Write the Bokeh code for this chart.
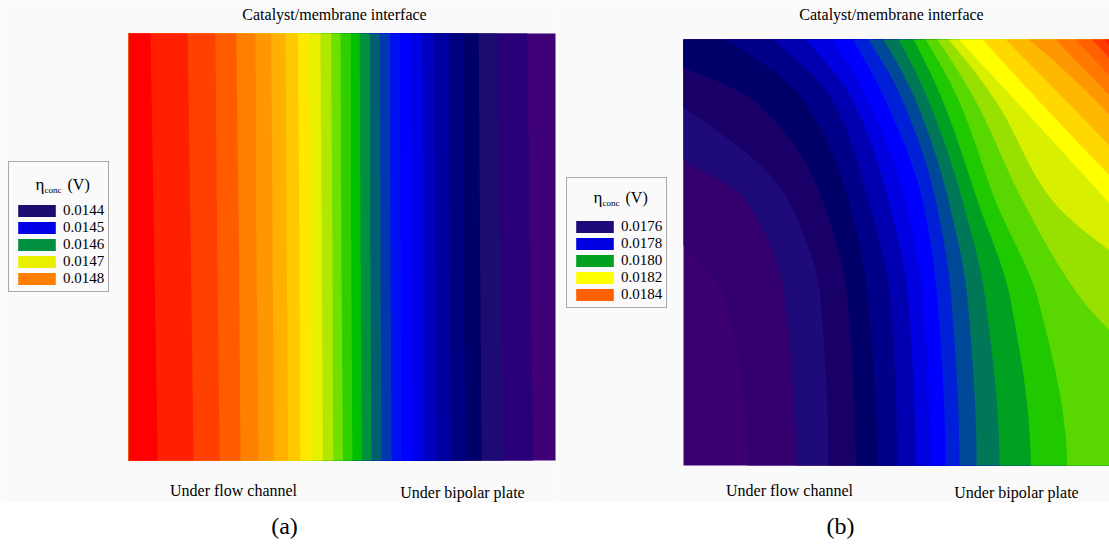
import numpy as np
from bokeh.plotting import figure
from bokeh.layouts import row
from bokeh.models import Range1d, Label, Legend, LegendItem, BoxAnnotation
from bokeh.embed import file_html
from bokeh.resources import INLINE

# ---------------- data: panel (a) ----------------
# contour positions (fraction of the domain width), listed left -> right,
# read at the top, middle and bottom of the domain
a_rows = [1.0, 0.515, 0.0]
a_top = [0.051, 0.138, 0.203, 0.252, 0.297, 0.334, 0.367, 0.396, 0.424, 0.449, 0.474, 0.496, 0.520,
         0.541, 0.565, 0.588, 0.612, 0.635, 0.660, 0.688, 0.715, 0.750, 0.785, 0.820, 0.863, 0.934]
a_mid = [0.059, 0.145, 0.207, 0.258, 0.299, 0.337, 0.370, 0.400, 0.427, 0.452, 0.477, 0.498, 0.521,
         0.543, 0.566, 0.590, 0.613, 0.637, 0.662, 0.690, 0.717, 0.752, 0.785, 0.823, 0.871, 0.940]
a_bot = [0.068, 0.152, 0.213, 0.262, 0.304, 0.340, 0.373, 0.402, 0.430, 0.455, 0.479, 0.502, 0.524,
         0.546, 0.569, 0.592, 0.616, 0.639, 0.666, 0.693, 0.721, 0.754, 0.789, 0.827, 0.877, 0.948]
# band colours, lowest level first
a_colors = ["#400078", "#2a0078", "#1c0c72", "#000068", "#000080", "#0000a0", "#0000c0", "#0000e6",
            "#0000ff", "#0010f0", "#0038b0", "#006070", "#009040", "#00c000", "#30d000", "#70e000",
            "#b0e800", "#e8f000", "#ffe800", "#ffc800", "#ffb000", "#ff9800", "#ff8000", "#ff5c00",
            "#ff4000", "#ff2000", "#ff0000"]
a_legend_labels = ["0.0144", "0.0145", "0.0146", "0.0147", "0.0148"]
a_legend_bands = [2, 7, 12, 17, 22]

# ---------------- data: panel (b) ----------------
b_rows = [1.0, 0.857, 0.622, 0.387, 0.0]
# x position of each contour (lowest level first) at the rows above; None = outside the domain
b_x = [
    [None, None, None, 0.099, 0.150],
    [None, None, 0.146, 0.239, 0.263],
    [None, None, 0.246, 0.322, 0.340],
    [None, 0.164, 0.326, 0.385, 0.404],
    [0.099, 0.282, 0.387, 0.434, 0.455],
    [0.209, 0.350, 0.434, 0.486, 0.502],
    [0.286, 0.397, 0.481, 0.528, 0.545],
    [0.350, 0.434, 0.521, 0.563, 0.580],
    [0.397, 0.474, 0.561, 0.596, 0.615],
    [0.434, 0.514, 0.592, 0.629, 0.648],
    [0.469, 0.545, 0.622, 0.667, 0.688],
    [0.505, 0.575, 0.655, 0.709, 0.742],
    [0.540, 0.608, 0.690, 0.768, 0.815],
    [0.568, 0.646, 0.732, 0.833, 0.901],
    [0.596, 0.685, 0.796, 0.937, None],
    [0.622, 0.732, 0.866, None, None],
    [0.646, 0.779, None, None, None],
    [0.702, 0.833, None, None, None],
    [0.756, 0.897, None, None, None],
    [0.810, 0.967, None, None, None],
    [0.873, None, None, None, None],
    [0.920, None, None, None, None],
    [0.960, None, None, None, None],
    [0.988, None, None, None, None],
]
# where a contour meets the left / right edge (height fraction), None if it does not
b_left_y = [0.516, 0.716, 0.840, 0.934] + [None] * 20
b_right_y = [None] * 14 + [0.317, 0.505, 0.615, 0.681, 0.751, 0.822, 0.869, 0.915, 0.955, 0.986]
b_colors = ["#3c0074", "#340070", "#1e0a78", "#180068", "#000068", "#000088", "#0000b0", "#0000e0",
            "#0000ff", "#0020d8", "#004898", "#007858", "#00a020", "#20c800", "#58d800", "#98e000",
            "#d8f000", "#ffff00", "#ffd800", "#ffb800", "#ff9800", "#ff7800", "#ff6000", "#ff3800",
            "#ff2000"]
b_legend_labels = ["0.0176", "0.0178", "0.0180", "0.0182", "0.0184"]
b_legend_bands = [2, 7, 12, 17, 22]

title_text = "Catalyst/membrane interface"
left_text = "Under flow channel"
right_text = "Under bipolar plate"

SERIF = "Liberation Serif"
INK = "#000000"
H = 545


def pchip(t, v, tq):
    """Monotone cubic curve through the read contour points (drawing only)."""
    t = np.asarray(t, float)
    v = np.asarray(v, float)
    n = len(t)
    if n == 2:
        return np.interp(tq, t, v)
    h = np.diff(t)
    d = np.diff(v) / h
    m = np.zeros(n)
    for i in range(1, n - 1):
        if d[i - 1] * d[i] > 0:
            w1 = 2 * h[i] + h[i - 1]
            w2 = h[i] + 2 * h[i - 1]
            m[i] = (w1 + w2) / (w1 / d[i - 1] + w2 / d[i])

    def end(h0, h1, d0, d1):
        mm = ((2 * h0 + h1) * d0 - h0 * d1) / (h0 + h1)
        if np.sign(mm) != np.sign(d0):
            return 0.0
        if np.sign(d0) != np.sign(d1) and abs(mm) > 3 * abs(d0):
            return 3 * d0
        return mm

    m[0] = end(h[0], h[1], d[0], d[1])
    m[-1] = end(h[-1], h[-2], d[-1], d[-2])
    tq = np.asarray(tq, float)
    idx = np.clip(np.searchsorted(t, tq) - 1, 0, n - 2)
    hh = h[idx]
    s = (tq - t[idx]) / hh
    h00 = 2 * s ** 3 - 3 * s ** 2 + 1
    h10 = s ** 3 - 2 * s ** 2 + s
    h01 = -2 * s ** 3 + 3 * s ** 2
    h11 = s ** 3 - s ** 2
    return h00 * v[idx] + h10 * hh * m[idx] + h01 * v[idx + 1] + h11 * hh * m[idx + 1]


def make_fig(width, x0px, wpx, y1px, hpx, left_px):
    xs = -(x0px - left_px) / wpx
    xe = (left_px + width - x0px) / wpx
    y_bottom_px = y1px + hpx
    ys = -(H - y_bottom_px) / hpx
    ye = 1 + y1px / hpx
    p = figure(width=width, height=H, x_range=Range1d(xs, xe), y_range=Range1d(ys, ye),
               output_backend="svg", toolbar_location=None, x_axis_location=None,
               y_axis_location=None, min_border=0, outline_line_color=None,
               background_fill_color="white", border_fill_color="white")
    p.grid.visible = False
    fx = lambda px: (px - x0px) / wpx
    fy = lambda py: (y_bottom_px - py) / hpx
    p.add_layout(BoxAnnotation(bottom=fy(502), fill_color="#fafafa", fill_alpha=1.0,
                               line_color=None, level="underlay"))
    return p, fx, fy


def add_texts(p, renderer, fx, fy, left_px, tx, lx, rx, cap, cx, lg_x, lg_bottom, title_y,
              labels, bands):
    # lg_x, tx, lx, rx, cx are page pixels; left_px is where this figure starts on the page
    p.add_layout(Label(x=fx(tx), y=fy(14), text=title_text, text_align="center",
                       text_baseline="middle", text_font=SERIF, text_font_size="16px",
                       text_color=INK))
    p.add_layout(Label(x=fx(lx), y=fy(490), text=left_text, text_align="center",
                       text_baseline="middle", text_font=SERIF, text_font_size="16px",
                       text_color=INK))
    p.add_layout(Label(x=fx(rx), y=fy(492), text=right_text, text_align="center",
                       text_baseline="middle", text_font=SERIF, text_font_size="16px",
                       text_color=INK))
    p.add_layout(Label(x=fx(cx), y=fy(525), text=cap, text_align="center",
                       text_baseline="middle", text_font=SERIF, text_font_size="24px",
                       text_color=INK))
    items = [LegendItem(label=lab, renderers=[renderer], index=b) for lab, b in zip(labels, bands)]
    lg = Legend(items=items, location=(lg_x - left_px, H - lg_bottom), title=" ",
                title_text_font_size="16px", title_standoff=18, padding=4, spacing=0,
                glyph_width=47, glyph_height=15, label_standoff=3, label_height=15,
                label_text_font=SERIF, label_text_font_size="15px", label_text_color=INK,
                border_line_color="#555555", border_line_width=1, background_fill_color="white",
                background_fill_alpha=0.0, margin=0)
    p.add_layout(lg, "center")
    ex = lg_x + 27
    p.add_layout(Label(x=fx(ex), y=fy(title_y), text="η", text_baseline="middle",
                       text_font=SERIF, text_font_size="17px", text_color=INK))
    p.add_layout(Label(x=fx(ex + 9), y=fy(title_y + 5), text="conc", text_baseline="middle",
                       text_font=SERIF, text_font_size="9px", text_color=INK))
    p.add_layout(Label(x=fx(ex + 32), y=fy(title_y), text="(V)", text_baseline="middle",
                       text_font=SERIF, text_font_size="16px", text_color=INK))


# ---------------- panel (a) ----------------
WA = 557
pa, fxa, fya = make_fig(WA, 128.3, 426.7, 33, 427, 0)
n_a = len(a_top)
xs_a = [[0, 1, 1, 0]]
ys_a = [[0, 0, 1, 1]]
cols_a = [a_colors[0]]
for j in range(n_a - 1, -1, -1):  # rightmost contour first
    xs_a.append([0, a_top[j], a_mid[j], a_bot[j], 0])
    ys_a.append([a_rows[0], a_rows[0], a_rows[1], a_rows[2], a_rows[2]])
    cols_a.append(a_colors[n_a - j])
ra = pa.patches(xs=xs_a, ys=ys_a, fill_color=cols_a, line_color=None)
add_texts(pa, ra, fxa, fya, 0, 334, 233, 462, "(a)", 284, 8, 292, 184,
          a_legend_labels, a_legend_bands)

# ---------------- panel (b) ----------------
WB = 1109 - WA
pb, fxb, fyb = make_fig(WB, 683, 426, 39, 426, WA)
xs_b = [[0, 1, 1, 0]]
ys_b = [[0, 0, 1, 1]]
cols_b = [b_colors[0]]
for k in range(len(b_x)):
    pts = []
    if b_left_y[k] is not None:
        pts.append((0.0, b_left_y[k]))
    for xv, yv in zip(b_x[k], b_rows):
        if xv is not None:
            pts.append((xv, yv))
    if b_right_y[k] is not None:
        pts.append((1.0, b_right_y[k]))
    pts.sort(key=lambda t: t[1])          # ascending height
    ty = [t[1] for t in pts]
    tx = [t[0] for t in pts]
    yq = np.linspace(ty[0], ty[-1], 80)
    xq = np.clip(pchip(ty, tx, yq), 0.0, 1.0)
    cx = list(xq[::-1])
    cy = list(yq[::-1])
    px = cx + [1.0, 1.0, cx[0]]
    py = cy + [cy[-1], 1.0, 1.0]
    xs_b.append(px)
    ys_b.append(py)
    cols_b.append(b_colors[k + 1])
rb = pb.patches(xs=xs_b, ys=ys_b, fill_color=cols_b, line_color=None)
add_texts(pb, rb, fxb, fyb, WA, 891, 789, 1016, "(b)", 840, 566, 308, 197,
          b_legend_labels, b_legend_bands)

layout = row(pa, pb, spacing=0)
open("out.html", "w").write(file_html(layout, INLINE))
